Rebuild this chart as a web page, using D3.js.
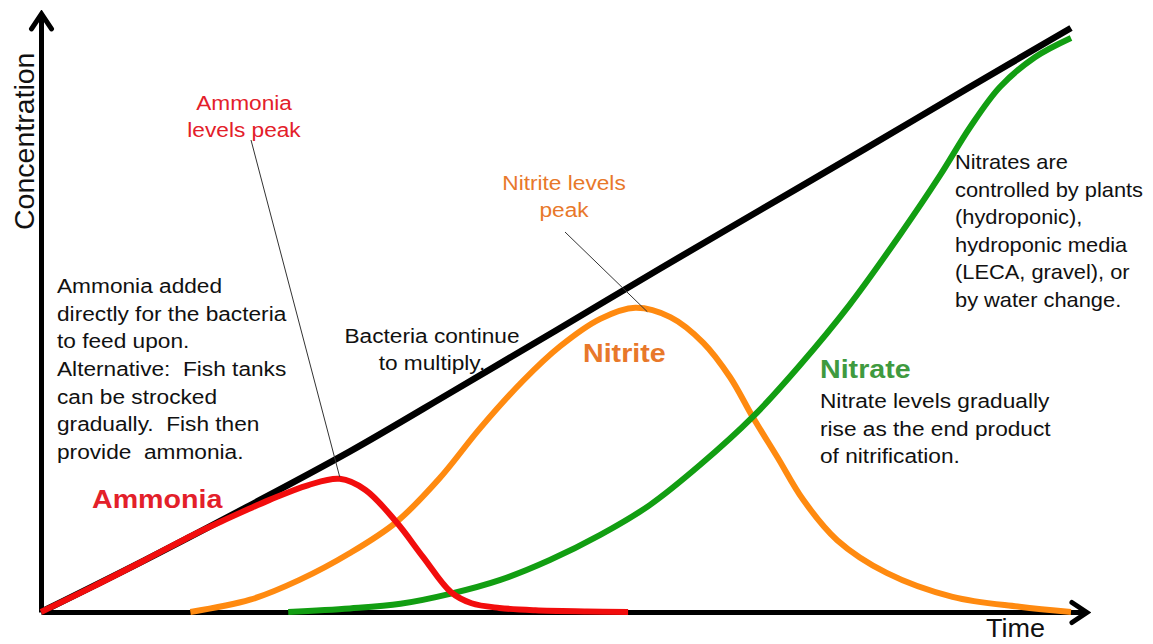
<!DOCTYPE html>
<html>
<head>
<meta charset="utf-8">
<script src="https://cdn.jsdelivr.net/npm/d3@7"></script>
<style>
  body { margin: 0; background: #fff; }
  svg { display: block; }
  text { font-family: "Liberation Sans", Arial, Helvetica, sans-serif; white-space: pre; }
</style>
</head>
<body>
<svg id="chart" width="1153" height="644"></svg>
<script>
// Time axis runs 0..100 (arbitrary units), concentration 0..100 (relative).

// Bacteria population (black line)
const bacteriaTime = [0, 10, 20, 30, 40, 50, 60, 70, 80, 90, 100];
const bacteriaConc = [0, 8.8, 18.0, 27.5, 37.8, 48.2, 58.7, 69.0, 79.3, 89.7, 100];

// Ammonia (red)
const ammoniaTime = [0, 5, 10, 15, 17.5, 20, 22.2, 25.9, 29, 31.5, 34.5, 37.1, 39.8, 41.8, 44.5, 48, 53, 57];
const ammoniaConc = [0, 4.3, 8.8, 13.4, 15.5, 17.5, 19.2, 21.7, 22.8, 20.9, 15.4, 9.4, 3.4, 1.5, 0.7, 0.3, 0.1, 0];

// Nitrite (orange)
const nitriteTime = [14.5, 20.3, 25.1, 30.0, 34.5, 38.7, 42.6, 46.8, 50.4, 54.3, 57.7, 61.1, 64.3, 66.9, 69.1, 71.5, 74.0, 77.3, 82.1, 88.5, 95.0, 100];
const nitriteConc = [0, 2.1, 5.5, 10.1, 15.4, 22.9, 31.4, 39.6, 45.5, 50.2, 52.1, 50.5, 46.1, 40.2, 33.4, 26.5, 19.2, 12.3, 6.7, 2.6, 0.9, 0];

// Nitrate (green)
const nitrateTime = [24, 30, 34.9, 39.7, 44.6, 49.4, 54.3, 59.1, 64.0, 69.1, 73.7, 78.5, 83.4, 87.3, 90.2, 93.1, 96.5, 100];
const nitrateConc = [0, 0.6, 1.4, 3.1, 5.5, 8.9, 13.2, 18.3, 25.2, 33.4, 42.3, 52.6, 64.6, 74.8, 83.0, 89.9, 95.0, 98.3];

// Axis titles
const xTitle = "Time";
const yTitle = "Concentration";

// Annotation texts
const ammoniaPeakNote = ["Ammonia", "levels peak"];
const nitritePeakNote = ["Nitrite levels", "peak"];
const ammoniaNote = ["Ammonia added", "directly for the bacteria", "to feed upon.", "Alternative:  Fish tanks", "can be strocked", "gradually.  Fish then", "provide  ammonia."];
const bacteriaNote = ["Bacteria continue", "to multiply."];
const nitratesControlNote = ["Nitrates are", "controlled by plants", "(hydroponic),", "hydroponic media", "(LECA, gravel), or", "by water change."];
const nitrateNote = ["Nitrate levels gradually", "rise as the end product", "of nitrification."];

const svg = d3.select("#chart");

const x = d3.scaleLinear().domain([0, 100]).range([41, 1071]);
const y = d3.scaleLinear().domain([0, 100]).range([612, 28]);

const COLORS = {
  bacteria: "#000000",
  ammonia: "#f20d0d",
  nitrite: "#ff8a10",
  nitrate: "#129e12",
  ammoniaText: "#e3202a",
  nitriteText: "#e8782a",
  nitrateText: "#3f9a3f",
  body: "#111111"
};

// Arrowhead marker for the axes
const defs = svg.append("defs");
defs.append("marker")
  .attr("id", "arrow")
  .attr("markerUnits", "userSpaceOnUse")
  .attr("viewBox", "-22 -14 26 28")
  .attr("markerWidth", 26)
  .attr("markerHeight", 28)
  .attr("refX", 0)
  .attr("refY", 0)
  .attr("orient", "auto")
  .append("path")
  .attr("d", "M-15,-10 L0,0 L-15,10")
  .attr("fill", "none")
  .attr("stroke", "#000")
  .attr("stroke-width", 5)
  .attr("stroke-linecap", "round")
  .attr("stroke-linejoin", "miter");

// Axes: bare domain lines (no ticks) extended a little past the data to carry arrows
const xAxisScale = x.copy().domain([0, 101.5]).range([x(0), x(101.5)]);
const yAxisScale = y.copy().domain([0, 102.5]).range([y(0), y(102.5)]);

const gx = svg.append("g")
  .attr("transform", `translate(0,${y(0)})`)
  .call(d3.axisBottom(xAxisScale).tickValues([]).tickSizeOuter(0));
const gy = svg.append("g")
  .attr("transform", `translate(${x(0)},0)`)
  .call(d3.axisLeft(yAxisScale).tickValues([]).tickSizeOuter(0));
[gx, gy].forEach(g => g.select(".domain")
  .attr("stroke", "#000")
  .attr("stroke-width", 5)
  .attr("marker-end", "url(#arrow)"));

// Curves
const line = d3.line()
  .x(d => x(d[0]))
  .y(d => y(d[1]))
  .curve(d3.curveCatmullRom.alpha(0.5));

const series = [
  { t: bacteriaTime, c: bacteriaConc, color: COLORS.bacteria, w: 6.5 },
  { t: nitriteTime, c: nitriteConc, color: COLORS.nitrite, w: 6 },
  { t: nitrateTime, c: nitrateConc, color: COLORS.nitrate, w: 6 },
  { t: ammoniaTime, c: ammoniaConc, color: COLORS.ammonia, w: 6 }
];

series.forEach(s => {
  svg.append("path")
    .datum(d3.zip(s.t, s.c))
    .attr("fill", "none")
    .attr("stroke", s.color)
    .attr("stroke-width", s.w)
    .attr("stroke-linejoin", "round")
    .attr("d", line);
});

// Peaks of ammonia and nitrite, for the leader lines
function peakOf(t, c) {
  const i = d3.maxIndex(c);
  return [x(t[i]), y(c[i])];
}
const ammoniaPeak = peakOf(ammoniaTime, ammoniaConc);
const nitritePeak = peakOf(nitriteTime, nitriteConc);

svg.append("line")
  .attr("x1", 251).attr("y1", 140)
  .attr("x2", ammoniaPeak[0]).attr("y2", ammoniaPeak[1] - 2)
  .attr("stroke", "#333").attr("stroke-width", 1);
svg.append("line")
  .attr("x1", 565).attr("y1", 232)
  .attr("x2", nitritePeak[0] + 12).attr("y2", nitritePeak[1] + 4)
  .attr("stroke", "#333").attr("stroke-width", 1);

// Text helper: multi-line block, slightly widened like the original slide typography
const SX = 1.08;
function textBlock(px, py, lines, o) {
  const t = svg.append("text")
    .attr("transform", `translate(${px},${py}) scale(${o.sx || SX},1)`)
    .attr("font-size", o.size)
    .attr("font-weight", o.weight || "normal")
    .attr("fill", o.color)
    .attr("text-anchor", o.anchor || "start");
  lines.forEach((l, i) => {
    t.append("tspan").attr("x", 0).attr("dy", i === 0 ? 0 : o.lh).text(l);
  });
  return t;
}

// Axis titles
textBlock(986, 637, [xTitle], { size: 25, color: COLORS.body });
svg.append("text")
  .attr("transform", `translate(34,230) rotate(-90)`)
  .attr("font-size", 28.5)
  .attr("fill", COLORS.body)
  .text(yTitle);

// Annotations
textBlock(244, 110, ammoniaPeakNote, { size: 21, color: COLORS.ammoniaText, anchor: "middle", lh: 27 });
textBlock(564, 190, nitritePeakNote, { size: 21, color: COLORS.nitriteText, anchor: "middle", lh: 27 });
textBlock(57, 293, ammoniaNote, { size: 21, color: COLORS.body, lh: 27.7 });
textBlock(432, 343, bacteriaNote, { size: 21, color: COLORS.body, anchor: "middle", lh: 27 });
textBlock(955, 169, nitratesControlNote, { size: 21, color: COLORS.body, lh: 27.6, sx: 1.04 });
textBlock(820, 408, nitrateNote, { size: 21, color: COLORS.body, lh: 27.6 });

// Series labels
textBlock(92, 508, ["Ammonia"], { size: 26.5, weight: "bold", color: COLORS.ammoniaText });
textBlock(583, 362, ["Nitrite"], { size: 26.5, weight: "bold", color: COLORS.nitriteText });
textBlock(820, 378, ["Nitrate"], { size: 26.5, weight: "bold", color: COLORS.nitrateText });
</script>
</body>
</html>
